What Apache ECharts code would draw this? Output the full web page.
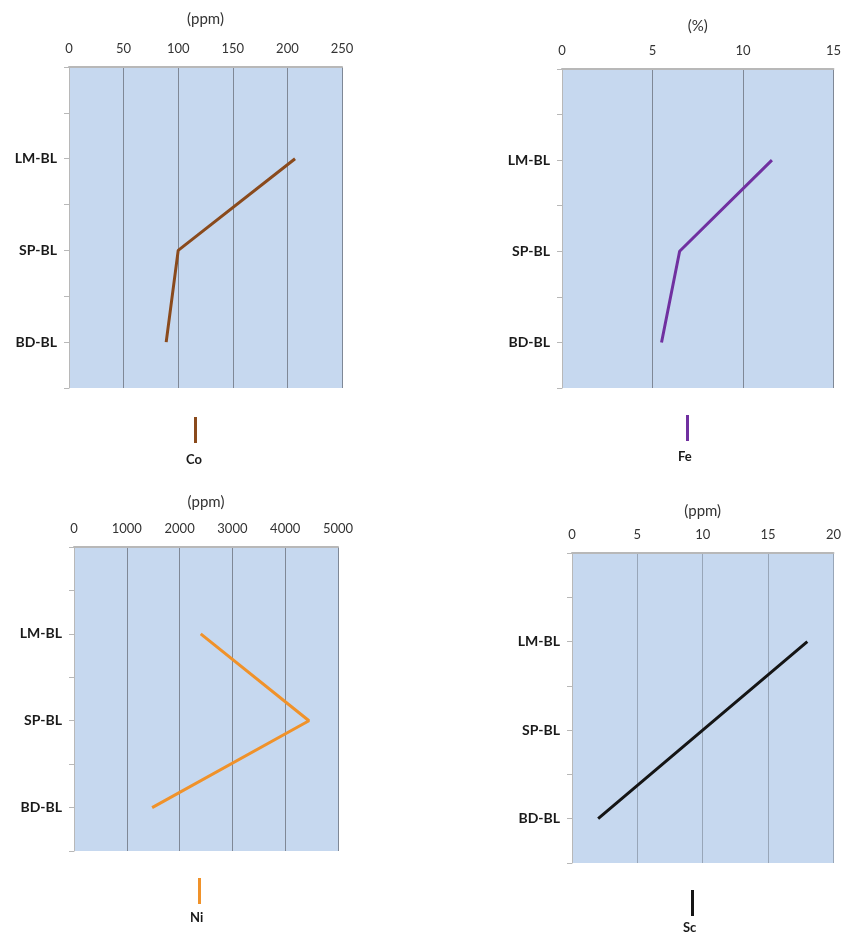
<!DOCTYPE html>
<html><head><meta charset="utf-8">
<script src="https://cdn.jsdelivr.net/npm/echarts@6/dist/echarts.min.js"></script>
<style>html,body{margin:0;padding:0;background:#fff}#c{width:844px;height:932px}</style>
</head><body><div id="c"></div>
<script>
const categories = ['LM-BL', 'SP-BL', 'BD-BL'];
const coValues = [207, 100, 89];
const feValues = [11.6, 6.5, 5.5];
const niValues = [2400, 4450, 1480];
const scValues = [18, 10, 2];
const coTicks = [0, 250, 50];
const feTicks = [0, 15, 5];
const niTicks = [0, 5000, 1000];
const scTicks = [0, 20, 5];

const FONT = 'Lato';
const panels = [
  {name:'Co', unit:'(ppm)', vals:coValues, ticks:coTicks, color:'#8a4a1c', grid:{left:69, top:67, width:273, height:321}, split:'#7f8896', gap:40, leg:{x:186, y:417, s:60}},
  {name:'Fe', unit:'(%)', vals:feValues, ticks:feTicks, color:'#7030a0', grid:{left:562, top:69, width:272, height:319}, split:'#7f8896', gap:35, leg:{x:678, y:415, s:58}},
  {name:'Ni', unit:'(ppm)', vals:niValues, ticks:niTicks, color:'#f0922a', grid:{left:74, top:547, width:264, height:304}, split:'#7f8896', gap:37, leg:{x:190, y:878, s:54}},
  {name:'Sc', unit:'(ppm)', vals:scValues, ticks:scTicks, color:'#151515', grid:{left:572, top:553, width:262, height:310}, split:'#98a6b8', gap:34, leg:{x:683, y:890, s:50}}
];

const option = {animation:false, grid:[], xAxis:[], yAxis:[], series:[], legend:[]};
panels.forEach((p, i) => {
  option.grid.push(Object.assign({backgroundColor:'#c6d8ef', show:true, borderWidth:0}, p.grid));
  option.xAxis.push({
    type:'value', gridIndex:i, position:'top', min:p.ticks[0], max:p.ticks[1], interval:p.ticks[2],
    name:p.unit, nameLocation:'middle', nameGap:p.gap,
    nameTextStyle:{fontFamily:FONT, fontSize:15, color:'#333'},
    axisLine:{show:true, lineStyle:{color:'#b8b8b8', width:2}},
    axisTick:{show:false},
    axisLabel:{fontFamily:FONT, fontSize:13, color:'#333', margin:12, formatter: v => String(v)},
    splitLine:{show:true, lineStyle:{color:p.split, width:1}}
  });
  option.yAxis.push({
    type:'value', gridIndex:i, min:0, max:3.5, interval:0.5, inverse:true,
    axisLine:{show:true, lineStyle:{color:'#b8b8b8', width:1}},
    axisTick:{show:true, length:5, lineStyle:{color:'#b8b8b8'}},
    axisLabel:{fontFamily:FONT, fontSize:14, fontWeight:'bold', color:'#1a1a1a', margin:12,
      formatter: v => (Number.isInteger(v) && v >= 1 && v <= categories.length) ? categories[v-1] : ''},
    splitLine:{show:false}
  });
  option.series.push({
    name:p.name, type:'line', xAxisIndex:i, yAxisIndex:i, symbol:'none',
    lineStyle:{color:p.color, width:3}, itemStyle:{color:p.color},
    data:p.vals.map((v, k) => [v, k+1])
  });
  option.legend.push({
    data:[p.name], left:p.leg.x, top:p.leg.y, padding:0,
    icon:'rect', itemWidth:3, itemHeight:26, itemGap:0,
    formatter: n => '{s|}\n{t|' + n + '}',
    textStyle:{fontFamily:FONT, fontSize:13, fontWeight:'bold', color:'#1a1a1a', padding:[0, 0, 0, -16],
      rich:{s:{height:p.leg.s, fontSize:13}, t:{fontFamily:FONT, fontSize:13, fontWeight:'bold', color:'#1a1a1a'}}},
    selectedMode:false
  });
});
echarts.init(document.getElementById('c')).setOption(option);
</script></body></html>
